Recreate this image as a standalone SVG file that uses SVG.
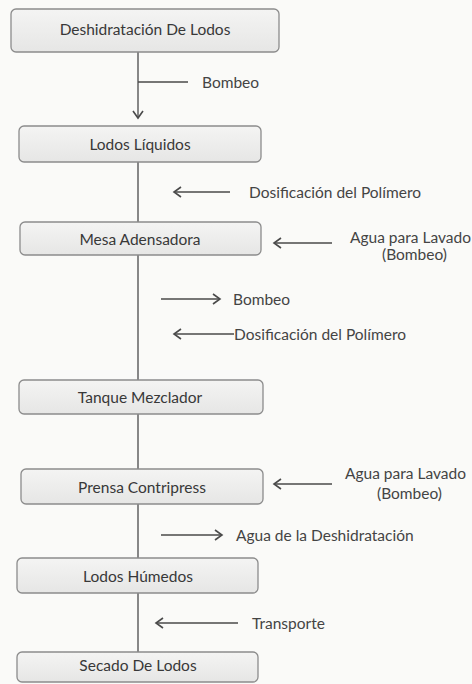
<svg xmlns="http://www.w3.org/2000/svg" width="472" height="684" viewBox="0 0 472 684">
<defs>
<linearGradient id="g" x1="0" y1="0" x2="0" y2="1">
<stop offset="0" stop-color="#f4f4f3"/>
<stop offset="1" stop-color="#e6e6e5"/>
</linearGradient>
<marker id="ah" markerWidth="10" markerHeight="12" refX="8" refY="6" orient="auto" markerUnits="userSpaceOnUse">
<path d="M1,1 L8,6 L1,11" fill="none" stroke="#4a4a4a" stroke-width="1.6"/>
</marker>
</defs>
<style>
.box{fill:url(#g);stroke:#8c8c8c;stroke-width:1.3}
.nt{font-family:Lato,"Open Sans","Liberation Sans",sans-serif;font-size:15.5px;fill:#383838;text-anchor:middle;dominant-baseline:central}
.lt{font-family:Lato,"Open Sans","Liberation Sans",sans-serif;font-size:15.5px;fill:#444;dominant-baseline:central}
.ln{stroke:#4a4a4a;stroke-width:1.3;fill:none}
.ar{stroke:#4a4a4a;stroke-width:1.3;fill:none;marker-end:url(#ah)}
</style>
<rect width="472" height="684" fill="#fafaf8"/>
<g id="connectors">
<line class="ar" x1="138" y1="52" x2="138" y2="118"/>
<line class="ln" x1="138" y1="82" x2="188" y2="82"/>
<line class="ln" x1="138" y1="162" x2="138" y2="222"/>
<line class="ar" x1="230" y1="192" x2="174" y2="192"/>
<line class="ar" x1="332" y1="243" x2="274" y2="243"/>
<line class="ln" x1="138" y1="255" x2="138" y2="380"/>
<line class="ar" x1="161" y1="299" x2="220" y2="299"/>
<line class="ar" x1="234" y1="334" x2="174" y2="334"/>
<line class="ln" x1="138" y1="414" x2="138" y2="469"/>
<line class="ar" x1="332" y1="484" x2="274" y2="484"/>
<line class="ln" x1="138" y1="504" x2="138" y2="558"/>
<line class="ar" x1="161" y1="535" x2="222" y2="535"/>
<line class="ln" x1="138" y1="593" x2="138" y2="652"/>
<line class="ar" x1="238" y1="623" x2="156" y2="623"/>
</g>
<g id="n1"><rect class="box" x="11" y="9" width="268" height="43" rx="5"/><text class="nt" x="145" y="29">Deshidratación De Lodos</text></g>
<g id="n2"><rect class="box" x="19" y="126" width="242" height="36" rx="5"/><text class="nt" x="140" y="144">Lodos Líquidos</text></g>
<g id="n3"><rect class="box" x="20" y="222" width="241" height="33" rx="5"/><text class="nt" x="140" y="239">Mesa Adensadora</text></g>
<g id="n4"><rect class="box" x="19" y="380" width="244" height="34" rx="5"/><text class="nt" x="140" y="397">Tanque Mezclador</text></g>
<g id="n5"><rect class="box" x="21" y="469" width="242" height="35" rx="5"/><text class="nt" x="142" y="487">Prensa Contripress</text></g>
<g id="n6"><rect class="box" x="17" y="558" width="241" height="35" rx="5"/><text class="nt" x="138" y="576">Lodos Húmedos</text></g>
<g id="n7"><rect class="box" x="17" y="652" width="241" height="30" rx="5"/><text class="nt" x="138" y="665">Secado De Lodos</text></g>
<g id="labels">
<text class="lt" x="202" y="82">Bombeo</text>
<text class="lt" x="249" y="192">Dosificación del Polímero</text>
<text class="lt" x="350" y="237">Agua para Lavado</text>
<text class="lt" x="382" y="254">(Bombeo)</text>
<text class="lt" x="233" y="299">Bombeo</text>
<text class="lt" x="234" y="334">Dosificación del Polímero</text>
<text class="lt" x="345" y="473">Agua para Lavado</text>
<text class="lt" x="377" y="493">(Bombeo)</text>
<text class="lt" x="236" y="535">Agua de la Deshidratación</text>
<text class="lt" x="252" y="623">Transporte</text>
</g>
</svg>
